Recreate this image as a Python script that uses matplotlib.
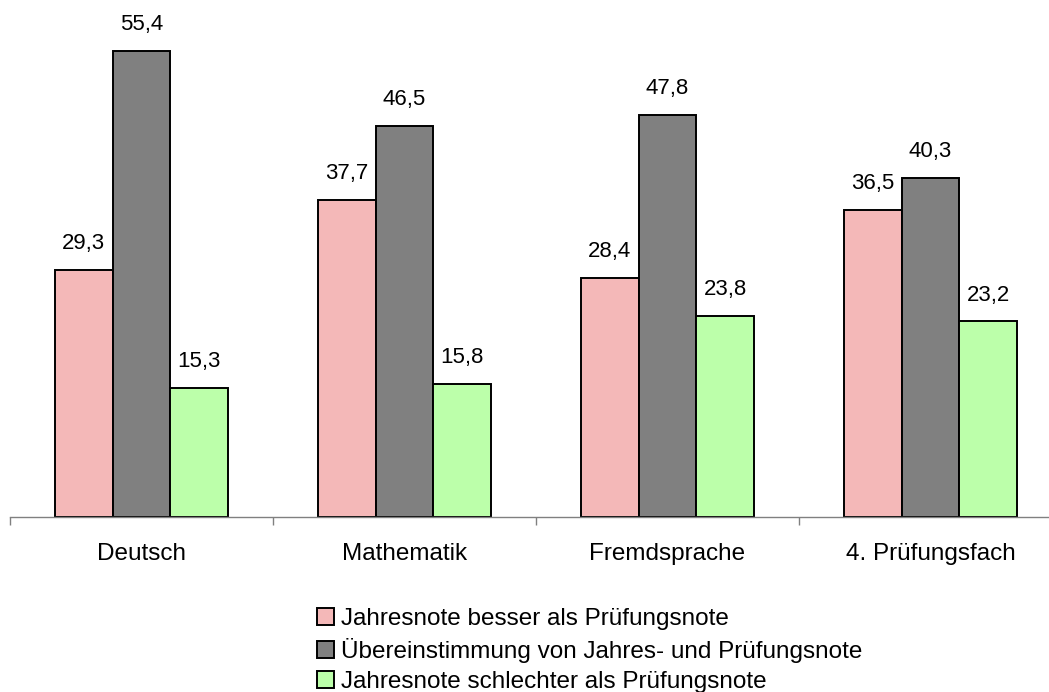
import matplotlib
matplotlib.use('Agg')
import matplotlib.pyplot as plt
import numpy as np

plt.rcParams['font.family'] = ['Liberation Sans', 'DejaVu Sans']

# Data
faecher = ['Deutsch', 'Mathematik', 'Fremdsprache', '4. Prüfungsfach']
serien = ['Jahresnote besser als Prüfungsnote',
          'Übereinstimmung von Jahres- und Prüfungsnote',
          'Jahresnote schlechter als Prüfungsnote']
besser = [29.3, 37.7, 28.4, 36.5]
gleich = [55.4, 46.5, 47.8, 40.3]
schlechter = [15.3, 15.8, 23.8, 23.2]

farben = ['#F4B8B8', '#808080', '#BCFFAA']

fig = plt.figure(figsize=(10.49, 6.92), dpi=100)
ax = fig.add_axes([10 / 1049, 175.5 / 692, 1052 / 1049, 504.5 / 692])

x = np.arange(len(faecher))
breite = 0.22
for i, (werte, name, farbe) in enumerate(zip([besser, gleich, schlechter], serien, farben)):
    bars = ax.bar(x + (i - 1) * breite, werte, width=breite, color=farbe,
                  edgecolor='black', linewidth=1.4, label=name)
    for b, v in zip(bars, werte):
        ax.annotate(f'{v:.1f}'.replace('.', ','),
                    (b.get_x() + b.get_width() / 2, b.get_height()),
                    xytext=(0, 19), textcoords='offset points',
                    ha='center', va='center', fontsize=16)

ax.set_xlim(-0.5, 3.5)
ax.set_ylim(0, 60)

for s in ['top', 'right', 'left']:
    ax.spines[s].set_visible(False)
ax.spines['bottom'].set_color('#808080')
ax.spines['bottom'].set_linewidth(1.0)
ax.set_yticks([])

ax.set_xticks(np.arange(-0.5, 4.0, 1.0))
ax.set_xticklabels([])
ax.tick_params(axis='x', which='major', direction='out', length=6,
               width=1.0, color='#808080')
ax.set_xticks(x, minor=True)
ax.set_xticklabels(faecher, minor=True, fontsize=17.5)
ax.tick_params(axis='x', which='minor', length=0, pad=19)

fig.legend(loc='upper left', bbox_to_anchor=(305 / 1049, 1 - 596 / 692),
           frameon=False, fontsize=17.5, handlelength=0.7, handleheight=0.7,
           handletextpad=0.3, labelspacing=0.32, borderpad=0)

fig.savefig('out.png', dpi=100)
